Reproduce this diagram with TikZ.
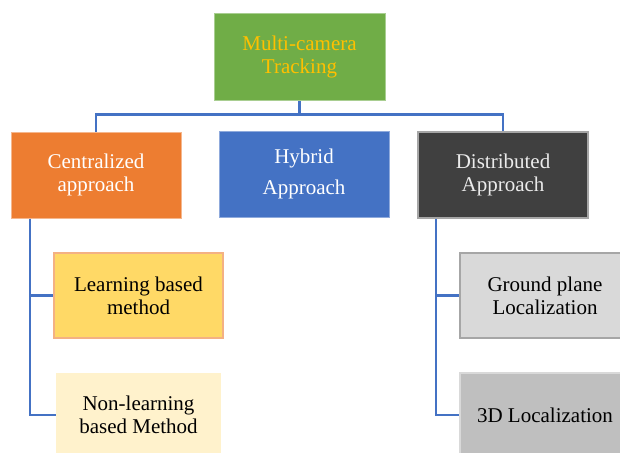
\documentclass[tikz,border=0pt]{standalone}
\usepackage{fontspec}
\setmainfont{Liberation Serif}
\newfontfamily\boxfont{Liberation Serif}
\usetikzlibrary{positioning}

\definecolor{topgreen}{HTML}{70AD47}
\definecolor{topgold}{HTML}{FFC000}
\definecolor{centorange}{HTML}{ED7D31}
\definecolor{hybblue}{HTML}{4472C4}
\definecolor{distgray}{HTML}{404040}
\definecolor{learnyellow}{HTML}{FFD966}
\definecolor{learnedge}{HTML}{F4B183}
\definecolor{nonlearncream}{HTML}{FFF2CC}
\definecolor{groundgray}{HTML}{D9D9D9}
\definecolor{groundedge}{HTML}{A6A6A6}
\definecolor{locgray}{HTML}{BFBFBF}
\definecolor{linkblue}{HTML}{4472C4}

\tikzset{
    box/.style={rectangle, align=center, minimum width=170pt, minimum height=86pt,
        inner sep=2pt, font=\boxfont\fontsize{21}{23}\selectfont},
    link/.style={draw=linkblue, line width=2.6pt}
}

\begin{document}
\begin{tikzpicture}[x=1pt, y=-1pt]
    \useasboundingbox (0,0) rectangle (620,452);
    \clip (0,0) rectangle (620,452);

    \node[box, fill=topgreen, draw=topgreen!60!white, line width=1pt, text=topgold,
        minimum width=171pt, minimum height=87pt] (track) at (299.5,57) {Multi-camera\\Tracking};
    \node[box, fill=centorange, draw=centorange!55!white, line width=1pt, text=white] (cent) at (96,175) {Centralized\\approach};
    \node[box, fill=hybblue, draw=hybblue!60!white, line width=1pt, text=white,
        font=\boxfont\fontsize{21}{31}\selectfont] (hyb) at (304,174) {Hybrid\\Approach};
    \node[box, fill=distgray, draw=groundedge, line width=1.5pt, text=white!92!black] (dist) at (503,175) {Distributed\\Approach};

    \node[box, fill=learnyellow, draw=learnedge, line width=2pt, minimum width=169pt, minimum height=85pt] (learn) at (138.5,295.5) {Learning based\\method};
    \node[box, fill=nonlearncream, minimum width=165pt, minimum height=85pt] (nonlearn) at (138.5,415) {Non-learning\\based Method};
    \node[box, fill=groundgray, draw=groundedge, line width=2pt, minimum height=85pt] (ground) at (545,295.5) {Ground plane\\Localization};
    \node[box, fill=locgray, draw=groundgray, line width=2pt, minimum height=85pt] (loc3d) at (545,415) {3D Localization};

    % top level tree
    \draw[link] (cent.north) -- ++(0,-17) -| (track.south);
    \draw[link] (dist.north) -- ++(0,-17) -| (track.south);

    % branches below
    \draw[link] ([xshift=-66pt]cent.south) |- (learn.west);
    \draw[link] ([xshift=-66pt]cent.south) |- (nonlearn.west);
    \draw[link] ([xshift=-67pt]dist.south) |- (ground.west);
    \draw[link] ([xshift=-67pt]dist.south) |- (loc3d.west);
\end{tikzpicture}
\end{document}
